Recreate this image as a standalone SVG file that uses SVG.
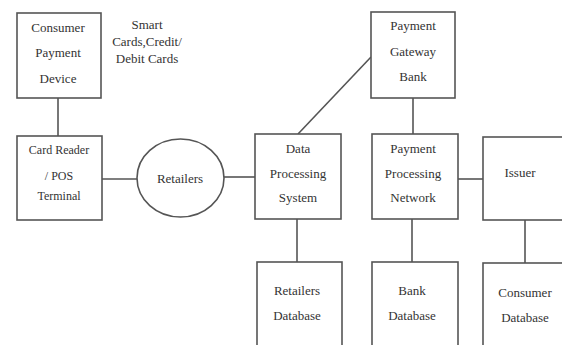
<svg xmlns="http://www.w3.org/2000/svg" width="562" height="345" viewBox="0 0 562 345">
<style>
.box{fill:#fff;stroke:#555;stroke-width:1.6}
.ln{stroke:#555;stroke-width:1.6;fill:none}
text{font-family:"Liberation Serif","Times New Roman",serif;font-size:13px;fill:#333;text-anchor:middle}
.s{font-size:12px}
</style>
<rect width="562" height="345" fill="#fff"/>
<g id="connectors">
<line class="ln" x1="58" y1="98" x2="58" y2="136"/>
<line class="ln" x1="102" y1="179" x2="137" y2="179"/>
<line class="ln" x1="224" y1="177" x2="255" y2="177"/>
<line class="ln" x1="298" y1="134" x2="371" y2="57"/>
<line class="ln" x1="413" y1="98" x2="413" y2="134"/>
<line class="ln" x1="458" y1="179" x2="483" y2="179"/>
<line class="ln" x1="297" y1="219" x2="297" y2="262"/>
<line class="ln" x1="412" y1="219" x2="412" y2="262"/>
<line class="ln" x1="525" y1="220" x2="525" y2="263"/>
</g>
<g id="consumer-device">
<rect class="box" x="17" y="13" width="84" height="85"/>
<text x="58" y="32">Consumer</text>
<text x="58" y="57">Payment</text>
<text x="58" y="83">Device</text>
</g>
<g id="cards-label">
<text x="147" y="29">Smart</text>
<text x="147" y="46">Cards,Credit/</text>
<text x="147" y="63">Debit Cards</text>
</g>
<g id="card-reader">
<rect class="box" x="17" y="136" width="85" height="84"/>
<text class="s" x="59" y="154">Card Reader</text>
<text class="s" x="59" y="180">/ POS</text>
<text class="s" x="59" y="200">Terminal</text>
</g>
<g id="retailers">
<ellipse class="box" cx="180.5" cy="178" rx="43.5" ry="39"/>
<text x="180" y="183">Retailers</text>
</g>
<g id="data-processing">
<rect class="box" x="255" y="134" width="86" height="85"/>
<text x="298" y="153">Data</text>
<text x="298" y="178">Processing</text>
<text x="298" y="202">System</text>
</g>
<g id="gateway-bank">
<rect class="box" x="371" y="12" width="84" height="86"/>
<text x="413" y="30">Payment</text>
<text x="413" y="56">Gateway</text>
<text x="413" y="81">Bank</text>
</g>
<g id="payment-network">
<rect class="box" x="372" y="134" width="86" height="85"/>
<text x="413" y="153">Payment</text>
<text x="413" y="178">Processing</text>
<text x="413" y="202">Network</text>
</g>
<g id="issuer">
<rect class="box" x="483" y="137" width="82" height="83"/>
<text x="520" y="177">Issuer</text>
</g>
<g id="retailers-db">
<rect class="box" x="257" y="262" width="85" height="90"/>
<text x="297" y="295">Retailers</text>
<text x="297" y="320">Database</text>
</g>
<g id="bank-db">
<rect class="box" x="372" y="262" width="86" height="90"/>
<text x="412" y="295">Bank</text>
<text x="412" y="320">Database</text>
</g>
<g id="consumer-db">
<rect class="box" x="483" y="263" width="82" height="90"/>
<text x="525" y="297">Consumer</text>
<text x="525" y="322">Database</text>
</g>
</svg>
